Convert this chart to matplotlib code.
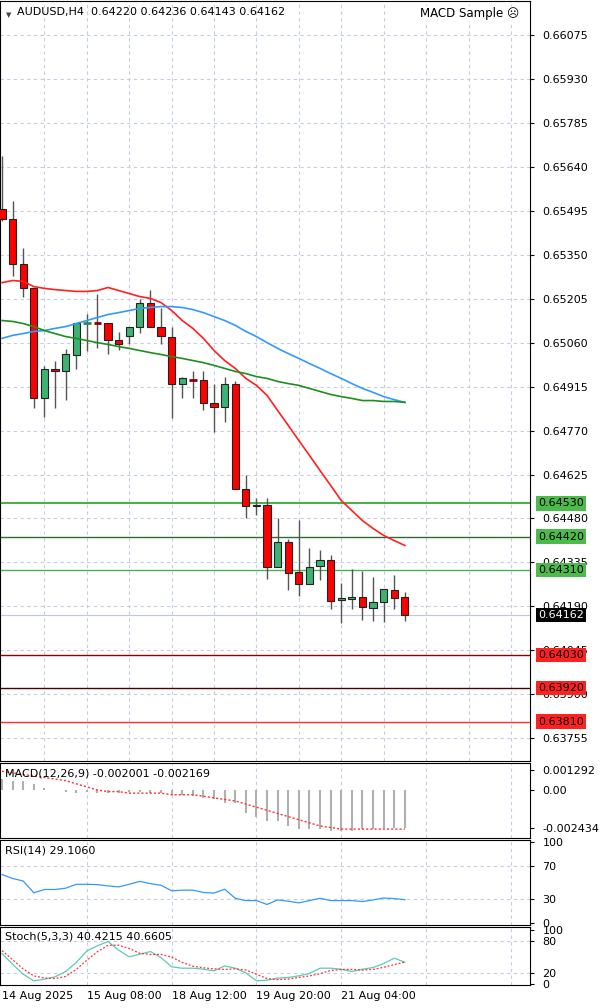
import matplotlib
matplotlib.use("Agg")
import matplotlib.pyplot as plt
import matplotlib.transforms as mtransforms
import numpy as np

opens  = [0.65502,0.65469,0.65320,0.65241,0.64876,0.64974,0.64968,0.65018,0.65126,0.65126,0.65126,0.65070,0.65083,0.65113,0.65192,0.65110,0.65080,0.64922,0.64938,0.64938,0.64862,0.64849,0.64925,0.64576,0.64520,0.64526,0.64319,0.64401,0.64302,0.64263,0.64322,0.64342,0.64210,0.64213,0.64220,0.64184,0.64204,0.64243,0.64220]
highs  = [0.65676,0.65528,0.65373,0.65241,0.64984,0.64998,0.65040,0.65126,0.65156,0.65222,0.65126,0.65096,0.65113,0.65205,0.65235,0.65175,0.65110,0.64948,0.64965,0.64965,0.64925,0.64948,0.64935,0.64625,0.64549,0.64546,0.64483,0.64411,0.64474,0.64381,0.64375,0.64358,0.64266,0.64312,0.64306,0.64286,0.64246,0.64293,0.64236]
lows   = [0.65460,0.65281,0.65212,0.64843,0.64816,0.64846,0.64872,0.64974,0.65034,0.65044,0.65021,0.65037,0.65057,0.65093,0.65110,0.65057,0.64810,0.64879,0.64879,0.64839,0.64764,0.64797,0.64576,0.64483,0.64493,0.64279,0.64319,0.64243,0.64223,0.64263,0.64276,0.64180,0.64134,0.64180,0.64144,0.64141,0.64138,0.64180,0.64143]
closes = [0.65469,0.65320,0.65241,0.64876,0.64974,0.64968,0.65021,0.65126,0.65128,0.65126,0.65070,0.65054,0.65113,0.65192,0.65113,0.65083,0.64922,0.64942,0.64935,0.64862,0.64849,0.64922,0.64576,0.64520,0.64526,0.64319,0.64401,0.64299,0.64263,0.64319,0.64342,0.64207,0.64217,0.64220,0.64187,0.64204,0.64246,0.64217,0.64162]

ma_red = [0.65258,0.65265,0.65262,0.65245,0.65239,0.65235,0.65232,0.65229,0.65229,0.65232,0.65242,0.65232,0.65222,0.65212,0.65206,0.65192,0.65166,0.65133,0.65107,0.65074,0.65034,0.65001,0.64975,0.64942,0.64919,0.64886,0.64836,0.64787,0.64737,0.64688,0.64638,0.64589,0.64539,0.64506,0.64473,0.64447,0.64424,0.64407,0.64391]
ma_blue = [0.65074,0.65084,0.65090,0.65097,0.65100,0.65107,0.65113,0.65123,0.65133,0.65143,0.65153,0.65159,0.65166,0.65173,0.65176,0.65179,0.65179,0.65176,0.65169,0.65159,0.65146,0.65133,0.65117,0.65097,0.65080,0.65060,0.65041,0.65024,0.65008,0.64991,0.64975,0.64958,0.64942,0.64925,0.64909,0.64896,0.64882,0.64872,0.64863]
ma_green = [0.65133,0.65130,0.65123,0.65113,0.65100,0.65090,0.65080,0.65074,0.65067,0.65060,0.65054,0.65047,0.65041,0.65034,0.65027,0.65021,0.65014,0.65008,0.65001,0.64994,0.64985,0.64975,0.64965,0.64958,0.64948,0.64942,0.64932,0.64925,0.64919,0.64909,0.64899,0.64889,0.64882,0.64876,0.64869,0.64869,0.64866,0.64866,0.64863]

macd_hist = [0.0007,0.0006,0.0006,0.0004,0.0001,0.0000,-0.0001,-0.0002,-0.0001,-0.0002,-0.0002,-0.0002,-0.0001,-0.0001,-0.0002,-0.0002,-0.0003,-0.0003,-0.0004,-0.0005,-0.0006,-0.0008,-0.0008,-0.0015,-0.0017,-0.0020,-0.0020,-0.0023,-0.0025,-0.0025,-0.0025,-0.0026,-0.0026,-0.0026,-0.0025,-0.0025,-0.0024,-0.0024,-0.0024]
macd_signal = [0.0012,0.0011,0.0010,0.0009,0.0008,0.0007,0.0006,0.0004,0.0002,0.0000,-0.0001,-0.0001,-0.0002,-0.0002,-0.0002,-0.0002,-0.0003,-0.0003,-0.0003,-0.0004,-0.0005,-0.0006,-0.0007,-0.0009,-0.0011,-0.0013,-0.0015,-0.0017,-0.0019,-0.0021,-0.0023,-0.0024,-0.0025,-0.0025,-0.0025,-0.0025,-0.0025,-0.0025,-0.0025]
rsi = [60,55.2,52,37.6,41.6,41.6,43.2,48,48,47.6,46,44.8,48,51.6,48.8,46.8,40,40.8,40.8,38,37.2,42,30.8,28,28,23.2,28.8,27.2,25.2,28,30.8,28,28,28,26.8,28.8,31.2,30.4,29.1]
stoch_k = [56.6,36.7,18,5.7,8.8,13.2,23,40,61.5,71,79,62.8,50.4,55.3,60.3,49,31.8,29.3,29.3,27.4,24.3,33.6,29.3,20.6,5.7,7,10.7,12,15,19.4,29.3,29.3,27.4,23,27.4,30.5,38,47.9,40.42]
stoch_d = [62,45,28,15,11,10,14,27,44,60,72,72,66,57,55,55,50,40,33,30,28,27,28,26,18,10,8,9,12,15,19,25,27,27,26,27,31,36,40.66]

price_ticks = [0.66075,0.65930,0.65785,0.65640,0.65495,0.65350,0.65205,0.65060,0.64915,0.64770,0.64625,0.64480,0.64335,0.64190,0.64045,0.63900,0.63755]
green_levels = [0.64530,0.64420,0.64310]
red_levels = [0.64030,0.63920,0.63810]
last_price = 0.64162
time_pos = [0,8,16,24,32]
time_labels = ['14 Aug 2025','15 Aug 08:00','18 Aug 12:00','19 Aug 20:00','21 Aug 04:00']

W, H = 600, 1008
fig = plt.figure(figsize=(6, 10.08), dpi=100)
fig.patch.set_facecolor('white')
def rect(x0, y0, x1, y1):
    return [x0/W, 1-y1/H, (x1-x0)/W, (y1-y0)/H]

gridc = '#c5cde0'
xl = (-0.19, 49.8)
n = len(opens)
x = np.arange(n)
FS = 8

ax = fig.add_axes(rect(0, 1, 530, 761))
ax.set_xlim(*xl)
ax.set_ylim(0.63680, 0.66187)
for i in range(n):
    o, h, l, c = opens[i], highs[i], lows[i], closes[i]
    ax.vlines(i, l, h, color='#555555', lw=1, zorder=3)
    col = '#ff0000' if c < o else ('#3cb371' if c > o else '#222222')
    if i == 8:
        col = '#90ee90'
    bot, top = min(o, c), max(o, c)
    if top - bot < 0.00003:
        ax.hlines(o, i-0.35, i+0.35, color='#8b0000' if c <= o else '#2e8b57', lw=2, zorder=4)
    else:
        ax.bar(i, top-bot, bottom=bot, width=0.68, color=col, edgecolor='#222222', lw=0.8, zorder=4)
ax.plot(x, ma_red, color='#ff2020', lw=1.2, zorder=5)
ax.plot(x, ma_blue, color='#3399ff', lw=1.2, zorder=5)
ax.plot(x, ma_green, color='#1e8f1e', lw=1.2, zorder=5)
trans = mtransforms.blended_transform_factory(ax.transAxes, ax.transData)
for k, lv in enumerate(green_levels):
    ax.axhline(lv, color='#4caf50' if k != 1 else '#2e6b2e', lw=1.5 if k == 0 else 1, zorder=2)
    ax.text(1.015, lv, f'{lv:.5f}', transform=trans, fontsize=FS, va='center', ha='left', color='black',
            bbox=dict(boxstyle='square,pad=0.2', fc='#4cbb4c', ec='none'), zorder=10, clip_on=False)
for k, lv in enumerate(red_levels):
    ax.axhline(lv, color=['#8b0000', '#4a0000', '#ff3030'][k], lw=1, zorder=2)
    ax.text(1.015, lv, f'{lv:.5f}', transform=trans, fontsize=FS, va='center', ha='left', color='black',
            bbox=dict(boxstyle='square,pad=0.2', fc='#ff2020', ec='none'), zorder=10, clip_on=False)
ax.axhline(last_price, color='#c0c8d8', lw=0.8, zorder=1)
ax.text(1.015, last_price, f'{last_price:.5f}', transform=trans, fontsize=FS, va='center', ha='left', color='white',
        bbox=dict(boxstyle='square,pad=0.2', fc='black', ec='none'), zorder=10, clip_on=False)
ax.yaxis.tick_right()
ax.set_yticks(price_ticks)
ax.set_yticklabels([f'{t:.5f}' for t in price_ticks], fontsize=FS)
ax.set_xticks(np.arange(4, 50, 4))
ax.set_xticklabels([])
ax.tick_params(axis='x', length=0)
ax.tick_params(axis='y', length=3, pad=6)
ax.grid(True, color=gridc, ls=(0, (3, 3)), lw=0.8)
ax.set_axisbelow(True)
ax.text(0.032, 0.992, 'AUDUSD,H4  0.64220 0.64236 0.64143 0.64162', transform=ax.transAxes, fontsize=FS, va='top')
ax.text(0.012, 0.985, '\u25BC', transform=ax.transAxes, fontsize=5, va='top', color='#444444')
ax.text(0.98, 0.992, 'MACD Sample \u2639', transform=ax.transAxes, fontsize=FS+0.5, va='top', ha='right',
        bbox=dict(fc='white', ec='none', pad=1))

def sub(r, ylim):
    a = fig.add_axes(r)
    a.set_xlim(*xl); a.set_ylim(*ylim)
    a.yaxis.tick_right()
    a.set_xticks(np.arange(8, 50, 8)); a.set_xticklabels([])
    a.tick_params(axis='x', length=0)
    a.tick_params(axis='y', length=3, pad=6, labelsize=FS)
    a.grid(True, color=gridc, ls=(0, (3, 3)), lw=0.8)
    a.set_axisbelow(True)
    return a

m = sub(rect(0, 763, 530, 838), (-0.00307, 0.00173))
m.vlines(x, 0, macd_hist, color='#b0b0b0', lw=1.5)
m.plot(x, macd_signal, color='#ff3030', lw=1, ls=(0, (1.5, 1.5)))
m.set_yticks([0.001292, 0.0, -0.002434]); m.set_yticklabels(['0.001292', '0.00', '-0.002434'])
m.grid(False); [m.axvline(v, color=gridc, ls=(0, (3, 3)), lw=0.8, zorder=0) for v in range(8, 50, 8)]
m.text(0.01, 0.92, 'MACD(12,26,9) -0.002001 -0.002169', transform=m.transAxes, fontsize=FS, va='top')

r = sub(rect(0, 840, 530, 925), (-2, 102.4))
r.plot(x, rsi, color='#3399ff', lw=0.9)
r.set_yticks([100, 70, 30, 0])
r.grid(False)
for v in range(8, 50, 8): r.axvline(v, color=gridc, ls=(0, (3, 3)), lw=0.8, zorder=0)
for v in (70, 30): r.axhline(v, color=gridc, ls=(0, (3, 3)), lw=0.8, zorder=0)
r.text(0.01, 0.93, 'RSI(14) 29.1060', transform=r.transAxes, fontsize=FS, va='top')

s = sub(rect(0, 927, 530, 985), (-2, 106))
s.plot(x, stoch_k, color='#5fc9b8', lw=0.9)
s.plot(x, stoch_d, color='#ff3030', lw=0.9, ls=(0, (1.5, 1.5)))
s.set_yticks([100, 80, 20, 0])
s.grid(False)
for v in range(8, 50, 8): s.axvline(v, color=gridc, ls=(0, (3, 3)), lw=0.8, zorder=0)
for v in (80, 20): s.axhline(v, color=gridc, ls=(0, (3, 3)), lw=0.8, zorder=0)
s.text(0.01, 0.93, 'Stoch(5,3,3) 40.4215 40.6605', transform=s.transAxes, fontsize=FS, va='top')
for p, lab in zip(time_pos, time_labels):
    s.text(p, -0.1, lab, transform=mtransforms.blended_transform_factory(s.transData, s.transAxes),
           fontsize=FS, va='top', ha='left')

fig.savefig('out.png', dpi=100, facecolor='white')
